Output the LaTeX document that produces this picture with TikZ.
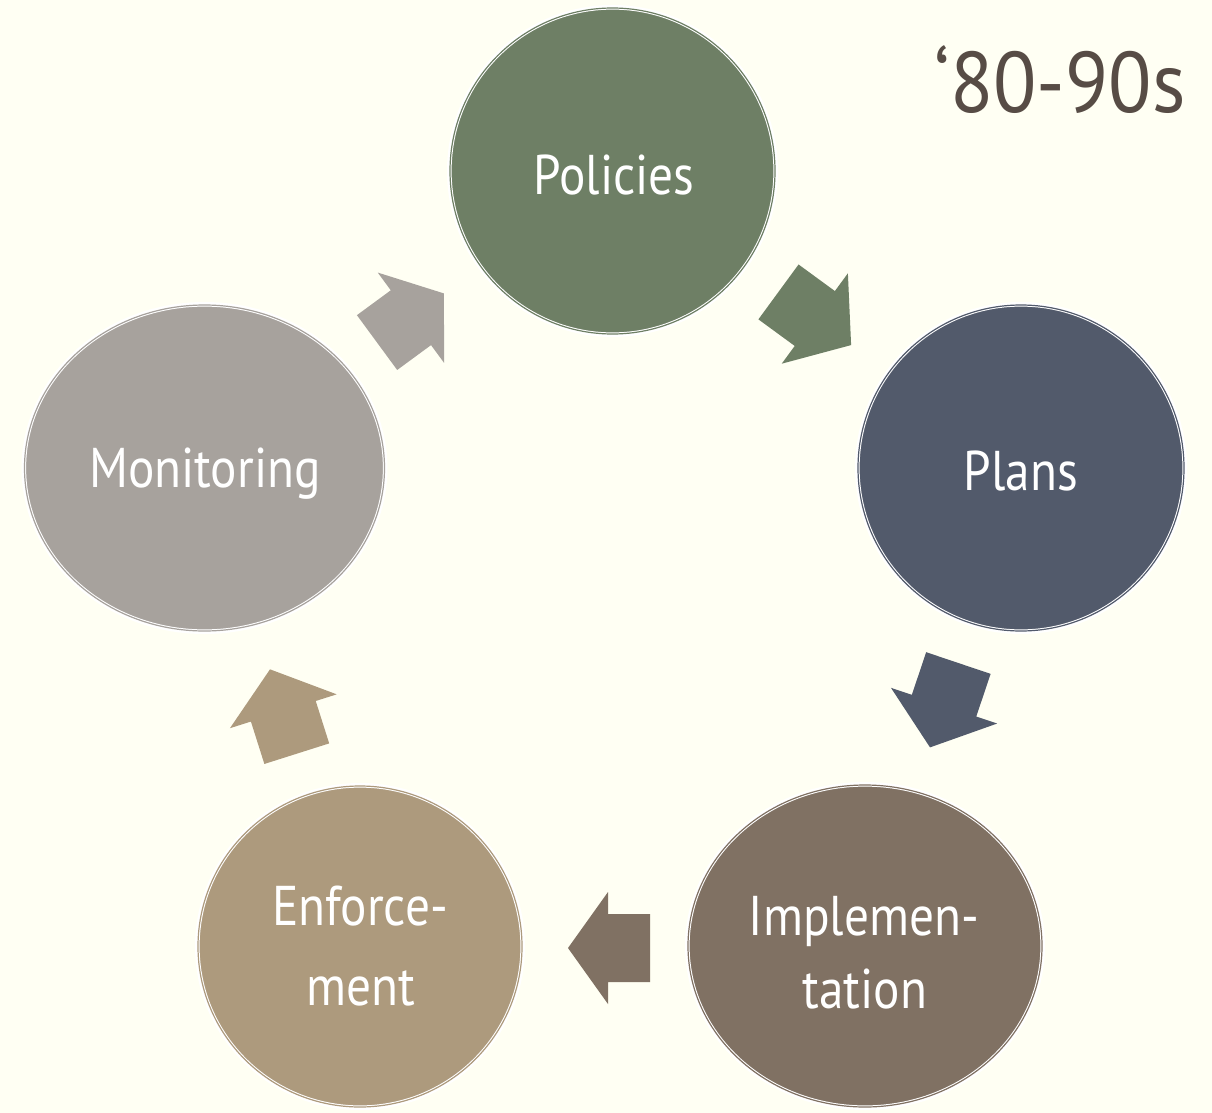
\documentclass[tikz,border=0pt]{standalone}
\usepackage{fontspec}
\newfontfamily\labelfont[FakeStretch=0.88]{PT Sans}
\newfontfamily\yearfont[FakeStretch=0.925]{PT Sans}
\usetikzlibrary{shapes.geometric}
\definecolor{bgcream}{HTML}{FFFFF3}
\definecolor{polc}{HTML}{6E7F65}
\definecolor{planc}{HTML}{525A6B}
\definecolor{implc}{HTML}{807163}
\definecolor{enfc}{HTML}{AD9A7D}
\definecolor{monc}{HTML}{A7A29D}
\definecolor{yearc}{HTML}{574C45}
\tikzset{
  stage/.style={ellipse, inner sep=0pt, outer sep=0pt, fill=#1,
    preaction={draw=white, line width=6pt},
    draw=white, line width=1pt, double=#1, double distance=1.2pt},
  stagetext/.style={anchor=base, text=white, inner sep=0pt,
    font=\labelfont\fontsize{56}{60}\selectfont},
  pics/blockarrow/.style 2 args={code={
    \path[pic actions] (-#1/2,-34) -- (#1/2-#2,-34) -- (#1/2-#2,-56) -- (#1/2,0)
      -- (#1/2-#2,56) -- (#1/2-#2,34) -- (-#1/2,34) -- cycle;
  }}
}
\begin{document}
\begin{tikzpicture}[x=1pt,y=-1pt]
\fill[bgcream] (0,0) rectangle (1212,1113);
\useasboundingbox (0,0) rectangle (1212,1113);

% stages
\node[stage=polc, minimum width=325pt, minimum height=326pt] (pol) at (612.5,171) {};
\node[stage=planc, minimum width=326pt, minimum height=326pt] (plan) at (1021,468) {};
\node[stage=implc, minimum width=354pt, minimum height=322pt] (impl) at (865,946) {};
\node[stage=enfc, minimum width=324pt, minimum height=321pt] (enf) at (360,946.5) {};
\node[stage=monc, minimum width=360pt, minimum height=326pt] (mon) at (204.5,468) {};

% labels
\node[stagetext] (polt) at (614,194) {Policies};
\node[stagetext] (plant) at (1021,490) {Plans};
\node[stagetext] (mont) at (205,487) {Monitoring};
\node[stagetext] (implt1) at (864,935) {Implemen-};
\node[stagetext] (implt2) at (865,1008) {tation};
\node[stagetext] (enft1) at (360,925) {Enforce-};
\node[stagetext] (enft2) at (361,1005) {ment};

% arrows
\pic[fill=polc, rotate=-36.2] (a1) at (814.8,318.5) {blockarrow={90}{45}};
\pic[fill=planc, rotate=-108.6] (a2) at (944.2,705.2) {blockarrow={89}{44}};
\pic[fill=implc, rotate=180] (a3) at (609,948) {blockarrow={82}{40}};
\pic[fill=enfc, rotate=107.6] (a4) at (283.4,711.5) {blockarrow={88.5}{44}};
\pic[fill=monc, rotate=36.3] (a5) at (410.5,318) {blockarrow={83}{41}};

% year
\node[anchor=base east, inner sep=0pt, text=yearc,
  font=\yearfont\fontsize{86}{90}\selectfont] (year) at (1186,113) {‘80-90s};
\end{tikzpicture}
\end{document}
